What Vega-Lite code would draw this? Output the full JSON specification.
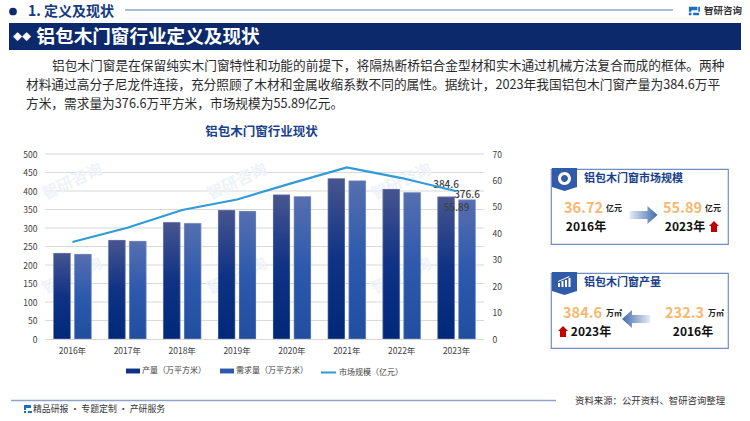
{
"$schema":"https://vega.github.io/schema/vega-lite/v6.json",
"padding":0,
"background":"#ffffff",
"config":{"concat":{"spacing":0},"view":{"stroke":null},"font":"Noto Sans CJK SC","text":{"font":"Noto Sans CJK SC"},"point":{"opacity":1},"axis":{"labelOverlap":false,"labelBound":false,"labelFlush":false}},
"datasets":{
"main":[
{"year":"2016年","series":"产量（万平方米）","value":232.3},
{"year":"2017年","series":"产量（万平方米）","value":267.6},
{"year":"2018年","series":"产量（万平方米）","value":315.3},
{"year":"2019年","series":"产量（万平方米）","value":348.6},
{"year":"2020年","series":"产量（万平方米）","value":390},
{"year":"2021年","series":"产量（万平方米）","value":434},
{"year":"2022年","series":"产量（万平方米）","value":405.4},
{"year":"2023年","series":"产量（万平方米）","value":384.6},
{"year":"2016年","series":"需求量（万平方米）","value":229.7},
{"year":"2017年","series":"需求量（万平方米）","value":264.9},
{"year":"2018年","series":"需求量（万平方米）","value":312.6},
{"year":"2019年","series":"需求量（万平方米）","value":346},
{"year":"2020年","series":"需求量（万平方米）","value":385},
{"year":"2021年","series":"需求量（万平方米）","value":428},
{"year":"2022年","series":"需求量（万平方米）","value":396},
{"year":"2023年","series":"需求量（万平方米）","value":376.6},
{"year":"2016年","series":"市场规模（亿元）","value":36.72},
{"year":"2017年","series":"市场规模（亿元）","value":42.1},
{"year":"2018年","series":"市场规模（亿元）","value":48.8},
{"year":"2019年","series":"市场规模（亿元）","value":52.8},
{"year":"2020年","series":"市场规模（亿元）","value":59},
{"year":"2021年","series":"市场规模（亿元）","value":64.9},
{"year":"2022年","series":"市场规模（亿元）","value":60.9},
{"year":"2023年","series":"市场规模（亿元）","value":55.89}
],
"levels":[{"level":50},{"level":100},{"level":150},{"level":200},{"level":250},{"level":300},{"level":350},{"level":400},{"level":450},{"level":500}],
"para":[
{"line":"1","start":"indent","text":"铝包木门窗是在保留纯实木门窗特性和功能的前提下，将隔热断桥铝合金型材和实木通过机械方法复合而成的框体。两种"},
{"line":"2","start":"left","text":"材料通过高分子尼龙件连接，充分照顾了木材和金属收缩系数不同的属性。据统计，2023年我国铝包木门窗产量为384.6万平"},
{"line":"3","start":"left","text":"方米，需求量为376.6万平方米，市场规模为55.89亿元。"}
],
"wm":[{"year":"2016年","t":"智研咨询"},{"year":"2019年","t":"智研咨询"},{"year":"2022年","t":"智研咨询"}],
"card1":[{"year":"2016年","num":"36.72","unit":"亿元"},{"year":"2023年","num":"55.89","unit":"亿元"}],
"card2":[{"year":"2023年","num":"384.6","unit":"万㎡"},{"year":"2016年","num":"232.3","unit":"万㎡"}]
},
"vconcat":[
{"hconcat":[
{"data":{"values":[{}]},"mark":{"type":"text","text":""},"width":8,"height":23},
{"data":{"values":[{}]},"mark":{"type":"point","filled":true,"size":60,"color":"#0c2a6b"},"width":10,"height":23},
{"data":{"values":[{"t":"1. 定义及现状"}]},"mark":{"type":"text","fontSize":14,"fontWeight":"bold","color":"#14397f"},"encoding":{"text":{"field":"t"}},"width":106,"height":23},
{"data":{"values":[{}]},"mark":{"type":"rule","stroke":"#8fa3cc","strokeWidth":1.5},"encoding":{"y":{"datum":0,"type":"quantitative","scale":{"domain":[-1,1]},"axis":null}},"width":548,"height":20},
{"data":{"values":[{}]},"mark":{"type":"text","text":""},"width":14,"height":23},
{"data":{"values":[{}]},"mark":{"type":"point","filled":true,"size":2.9,"stroke":null,"shape":"M-6,-5H4V-1H-3V1H-6ZM-6,2H-3V5H-6ZM1,2H6V5H-1V2ZM5,-5H7V1H5Z","color":"#1f6fc0"},"width":12,"height":22},
{"data":{"values":[{"t":"智研咨询"}]},"mark":{"type":"text","fontSize":9.5,"fontWeight":"bold","color":"#333333"},"encoding":{"text":{"field":"t"}},"width":46,"height":21}
]},
{"hconcat":[
{"data":{"values":[{}]},"mark":{"type":"text","text":""},"width":9,"height":27},
{"data":{"values":[{"t":"◆◆"}]},"view":{"fill":"#0c2a6b"},"mark":{"type":"text","fontSize":9,"color":"#ffffff"},"encoding":{"text":{"field":"t"}},"width":26,"height":27},
{"data":{"values":[{"t":"铝包木门窗行业定义及现状"}]},"view":{"fill":"#0c2a6b"},"mark":{"type":"text","fontSize":18.6,"fontWeight":"bold","color":"#ffffff"},"encoding":{"text":{"field":"t"}},"width":226,"height":27},
{"data":{"values":[{}]},"view":{"fill":"#0c2a6b"},"mark":{"type":"text","text":""},"width":480,"height":27}
]},
{"hconcat":[
{"data":{"values":[{}]},"mark":{"type":"text","text":""},"width":26,"height":64},
{"data":{"name":"para"},"mark":{"type":"text","align":"left","fontSize":12.7,"color":"#2b2b2b"},
"encoding":{"x":{"field":"start","type":"nominal","scale":{"type":"point","domain":["left","indent"],"range":[0,26],"padding":0},"axis":null},
"y":{"field":"line","type":"nominal","scale":{"type":"point","domain":["1","2","3"],"range":[16,54],"padding":0},"axis":null},
"text":{"field":"text"}},"width":700,"height":64}
]},
{"data":{"values":[{}]},"mark":{"type":"text","text":""},"width":10,"height":10},
{"hconcat":[
{"data":{"values":[{}]},"mark":{"type":"text","text":""},"width":22,"height":10},
{"width":439,"height":185,
"title":{"text":"铝包木门窗行业现状","anchor":"middle","fontSize":12.5,"fontWeight":"bold","color":"#1a3f8c","offset":12,"dx":-3,"font":"Noto Sans CJK SC"},
"layer":[
{"layer":[
{"data":{"name":"levels"},"mark":{"type":"rule","stroke":"#d8d8d8","strokeWidth":1.2},"encoding":{"y":{"field":"level","type":"quantitative","title":null}}},
{"data":{"name":"wm"},"mark":{"type":"text","fontSize":16,"fontWeight":"bold","angle":335,"color":"#eef3f9"},
"encoding":{"x":{"field":"year","type":"ordinal","title":null,"axis":{"bandPosition":0.5,"labelAngle":0,"labelFont":"Noto Sans CJK SC","labelFontSize":8.5,"labelColor":"#404040","labelPadding":7,"ticks":false,"domainColor":"#d8d8d8","grid":false}},"y":{"datum":425,"type":"quantitative"},"text":{"field":"t"}}},
{"data":{"name":"wm"},"mark":{"type":"text","fontSize":16,"fontWeight":"bold","angle":335,"color":"#eef3f9"},
"encoding":{"x":{"field":"year","type":"ordinal","title":null},"y":{"datum":170,"type":"quantitative"},"text":{"field":"t"}}},
{"data":{"name":"main"},"transform":[{"filter":"datum.series!=='市场规模（亿元）'"}],
"mark":{"type":"bar"},
"encoding":{
"x":{"field":"year","type":"ordinal","title":null,"scale":{"paddingInner":0.31,"paddingOuter":0.155},"axis":{"bandPosition":0.5,"labelAngle":0,"labelFont":"Noto Sans CJK SC","labelFontSize":8.5,"labelColor":"#404040","labelPadding":7,"ticks":false,"domainColor":"#d8d8d8","grid":false}},
"xOffset":{"field":"series","scale":{"domain":["产量（万平方米）","需求量（万平方米）"],"paddingInner":0.19}},
"y":{"field":"value","type":"quantitative","title":null,"scale":{"domain":[0,500],"nice":false},"axis":{"values":[0,50,100,150,200,250,300,350,400,450,500],"tickCount":11,"labelOverlap":false,"grid":false,"labelFont":"Noto Sans CJK SC","labelFontSize":8.5,"labelColor":"#404040","labelPadding":8,"ticks":false,"domain":false}},
"fill":{"field":"series","type":"nominal","scale":{"domain":["产量（万平方米）","需求量（万平方米）"],"range":["#0f3285","#2d59ad"]},"legend":{"orient":"none","legendX":126,"legendY":364,"direction":"horizontal","title":null,"symbolType":"M-1,-0.35H1V0.35H-1Z","symbolSize":196,"labelFont":"Noto Sans CJK SC","labelFontSize":8,"labelColor":"#404040","labelOffset":2,"columnPadding":14,"symbolStrokeWidth":0}}
}},
{"data":{"name":"main"},"transform":[{"filter":"datum.series==='产量（万平方米）'"}],
"mark":{"type":"bar","stroke":"#c5cde0","strokeWidth":0.4,"fill":{"gradient":"linear","x1":0,"y1":0,"x2":0,"y2":1,"stops":[{"offset":0,"color":"#47558f"},{"offset":0.5,"color":"#0f3285"},{"offset":1,"color":"#002878"}]}},
"encoding":{"x":{"field":"year","type":"ordinal"},"xOffset":{"field":"series","scale":{"domain":["产量（万平方米）","需求量（万平方米）"],"paddingInner":0.19}},"y":{"field":"value","type":"quantitative"}}},
{"data":{"name":"main"},"transform":[{"filter":"datum.series==='需求量（万平方米）'"}],
"mark":{"type":"bar","stroke":"#c5cde0","strokeWidth":0.4,"fill":{"gradient":"linear","x1":0,"y1":0,"x2":0,"y2":1,"stops":[{"offset":0,"color":"#566fb0"},{"offset":0.5,"color":"#2d59ad"},{"offset":1,"color":"#214e9f"}]}},
"encoding":{"x":{"field":"year","type":"ordinal"},"xOffset":{"field":"series","scale":{"domain":["产量（万平方米）","需求量（万平方米）"],"paddingInner":0.19}},"y":{"field":"value","type":"quantitative"}}},
{"data":{"name":"main"},"transform":[{"filter":"datum.year==='2023年' && datum.series==='产量（万平方米）'"}],
"mark":{"type":"text","dy":-12,"fontSize":10,"fontWeight":500,"color":"#404040"},
"encoding":{"x":{"field":"year","type":"ordinal"},"xOffset":{"field":"series","scale":{"domain":["产量（万平方米）","需求量（万平方米）"],"paddingInner":0.19}},"y":{"field":"value","type":"quantitative"},"text":{"field":"value","type":"quantitative","format":".1f"}}},
{"data":{"name":"main"},"transform":[{"filter":"datum.year==='2023年' && datum.series==='需求量（万平方米）'"}],
"mark":{"type":"text","dy":-5,"fontSize":10,"fontWeight":500,"color":"#404040"},
"encoding":{"x":{"field":"year","type":"ordinal"},"xOffset":{"field":"series","scale":{"domain":["产量（万平方米）","需求量（万平方米）"],"paddingInner":0.19}},"y":{"field":"value","type":"quantitative"},"text":{"field":"value","type":"quantitative","format":".1f"}}}
]},
{"layer":[
{"data":{"name":"main"},"transform":[{"filter":"datum.series==='市场规模（亿元）'"}],
"mark":{"type":"line","strokeWidth":2.2},
"encoding":{
"x":{"field":"year","type":"ordinal"},
"y":{"field":"value","type":"quantitative","title":null,"scale":{"domain":[0,70],"nice":false},"axis":{"orient":"right","values":[0,10,20,30,40,50,60,70],"tickCount":8,"labelOverlap":false,"grid":false,"labelFont":"Noto Sans CJK SC","labelFontSize":8.5,"labelColor":"#404040","labelPadding":8,"ticks":false,"domain":false}},
"stroke":{"field":"series","type":"nominal","scale":{"domain":["市场规模（亿元）"],"range":["#2f9bd7"]},"legend":{"orient":"none","legendX":320,"legendY":364,"direction":"horizontal","title":null,"symbolType":"M-1,0H1","symbolSize":225,"symbolStrokeWidth":2,"labelFont":"Noto Sans CJK SC","labelFontSize":8,"labelColor":"#404040","labelOffset":2}}
}},
{"data":{"name":"main"},"transform":[{"filter":"datum.year==='2023年' && datum.series==='市场规模（亿元）'"}],
"mark":{"type":"text","dy":17,"fontSize":10,"fontWeight":500,"color":"#404040"},
"encoding":{"x":{"field":"year","type":"ordinal"},"y":{"field":"value","type":"quantitative"},"text":{"field":"value","type":"quantitative","format":".2f"}}}
]}
],
"resolve":{"scale":{"y":"independent"}}
},
{"data":{"values":[{}]},"mark":{"type":"text","text":""},"width":48,"height":10},
{"vconcat":[
{"data":{"values":[{}]},"mark":{"type":"text","text":""},"width":10,"height":13},
{"width":177,"height":75,"view":{"stroke":"#6f8fc4","strokeWidth":1.2},
"data":{"name":"card1"},
"layer":[
{"data":{"values":[{}]},"mark":{"type":"point","filled":true,"size":4,"color":"#2f5ba8","stroke":null,"shape":"M-42,-11H-17V8L-29.5,12L-42,8Z"},
"encoding":{"x":{"datum":"2016年","type":"nominal","scale":{"type":"point","domain":["2016年","arrow","2023年"],"range":[43,142],"padding":0},"axis":null},"y":{"datum":"header","type":"nominal","scale":{"type":"point","domain":["header","gap","value","year"],"range":[10,58],"padding":0},"axis":null}}},
{"data":{"values":[{}]},"mark":{"type":"point","filled":true,"size":4,"color":"#ffffff","stroke":null,"shape":"M-29.5,-7A6.5,6.5,0,1,1,-29.5,6A6.5,6.5,0,1,1,-29.5,-7ZM-29.5,-4A3.5,3.5,0,1,0,-29.5,3A3.5,3.5,0,1,0,-29.5,-4Z"},
"encoding":{"x":{"datum":"2016年","type":"nominal","scale":{"type":"point","domain":["2016年","arrow","2023年"],"range":[43,142],"padding":0},"axis":null},"y":{"datum":"header","type":"nominal","scale":{"type":"point","domain":["header","gap","value","year"],"range":[10,58],"padding":0},"axis":null}}},
{"data":{"values":[{"t":"铝包木门窗市场规模"}]},"mark":{"type":"text","align":"left","dx":-10,"fontSize":11,"fontWeight":"bold","color":"#1a3f8c"},
"encoding":{"text":{"field":"t"},"x":{"datum":"2016年","type":"nominal","scale":{"type":"point","domain":["2016年","arrow","2023年"],"range":[43,142],"padding":0},"axis":null},"y":{"datum":"header","type":"nominal","scale":{"type":"point","domain":["header","gap","value","year"],"range":[10,58],"padding":0},"axis":null}}},
{"mark":{"type":"text","align":"right","dx":9,"dy":-2,"fontSize":14.5,"fontWeight":"bold","color":"#f7b871"},
"encoding":{"text":{"field":"num"},"x":{"field":"year","type":"nominal","scale":{"type":"point","domain":["2016年","arrow","2023年"],"range":[43,142],"padding":0},"axis":null},"y":{"datum":"value","type":"nominal","scale":{"type":"point","domain":["header","gap","value","year"],"range":[10,58],"padding":0},"axis":null}}},
{"mark":{"type":"text","align":"left","dx":12,"dy":-2,"fontSize":8,"fontWeight":"bold","color":"#222222"},
"encoding":{"text":{"field":"unit"},"x":{"field":"year","type":"nominal","scale":{"type":"point","domain":["2016年","arrow","2023年"],"range":[43,142],"padding":0},"axis":null},"y":{"datum":"value","type":"nominal","scale":{"type":"point","domain":["header","gap","value","year"],"range":[10,58],"padding":0},"axis":null}}},
{"mark":{"type":"text","dx":-8,"fontSize":12,"fontWeight":"bold","color":"#111111"},
"encoding":{"text":{"field":"year"},"x":{"field":"year","type":"nominal","scale":{"type":"point","domain":["2016年","arrow","2023年"],"range":[43,142],"padding":0},"axis":null},"y":{"datum":"year","type":"nominal","scale":{"type":"point","domain":["header","gap","value","year"],"range":[10,58],"padding":0},"axis":null}}},
{"data":{"values":[{}]},"mark":{"type":"point","filled":true,"size":4,"stroke":null,"shape":"M-14,0H4V-5L14,4L4,13V8H-14Z","fill":{"gradient":"linear","x1":0,"y1":0,"x2":1,"y2":0,"stops":[{"offset":0,"color":"#e6ecf6"},{"offset":1,"color":"#3f69ae"}]}},
"encoding":{"x":{"datum":"arrow","type":"nominal","scale":{"type":"point","domain":["2016年","arrow","2023年"],"range":[43,142],"padding":0},"axis":null},"y":{"datum":"value","type":"nominal","scale":{"type":"point","domain":["header","gap","value","year"],"range":[10,58],"padding":0},"axis":null}}},
{"data":{"values":[{}]},"mark":{"type":"point","filled":true,"size":4,"stroke":null,"color":"#c00000","shape":"M16,-1L21,-6L26,-1H24V5H18V-1Z"},
"encoding":{"x":{"datum":"2023年","type":"nominal","scale":{"type":"point","domain":["2016年","arrow","2023年"],"range":[43,142],"padding":0},"axis":null},"y":{"datum":"year","type":"nominal","scale":{"type":"point","domain":["header","gap","value","year"],"range":[10,58],"padding":0},"axis":null}}}
]},
{"data":{"values":[{}]},"mark":{"type":"text","text":""},"width":10,"height":26},
{"width":177,"height":75,"view":{"stroke":"#6f8fc4","strokeWidth":1.2},
"data":{"name":"card2"},
"layer":[
{"data":{"values":[{}]},"mark":{"type":"point","filled":true,"size":4,"color":"#2f5ba8","stroke":null,"shape":"M-33,-11H-8V8L-20.5,12L-33,8Z"},
"encoding":{"x":{"datum":"2023年","type":"nominal","scale":{"type":"point","domain":["2023年","arrow","2016年"],"range":[34,136],"padding":0},"axis":null},"y":{"datum":"header","type":"nominal","scale":{"type":"point","domain":["header","gap","value","year"],"range":[10,58],"padding":0},"axis":null}}},
{"data":{"values":[{}]},"mark":{"type":"point","filled":true,"size":4,"color":"#ffffff","stroke":null,"shape":"M-27,4V0H-25V4ZM-23.5,4V-2H-21.5V4ZM-20,4V-3H-18V4ZM-16.5,4V-5H-14.5V4ZM-27,-2L-20,-5L-16,-7L-15.5,-6L-20,-4L-27,-1Z"},
"encoding":{"x":{"datum":"2023年","type":"nominal","scale":{"type":"point","domain":["2023年","arrow","2016年"],"range":[34,136],"padding":0},"axis":null},"y":{"datum":"header","type":"nominal","scale":{"type":"point","domain":["header","gap","value","year"],"range":[10,58],"padding":0},"axis":null}}},
{"data":{"values":[{"t":"铝包木门窗产量"}]},"mark":{"type":"text","align":"left","dx":-1,"fontSize":11,"fontWeight":"bold","color":"#1a3f8c"},
"encoding":{"text":{"field":"t"},"x":{"datum":"2023年","type":"nominal","scale":{"type":"point","domain":["2023年","arrow","2016年"],"range":[34,136],"padding":0},"axis":null},"y":{"datum":"header","type":"nominal","scale":{"type":"point","domain":["header","gap","value","year"],"range":[10,58],"padding":0},"axis":null}}},
{"mark":{"type":"text","align":"right","dx":17,"dy":-1,"fontSize":14.5,"fontWeight":"bold","color":"#f7b871"},
"encoding":{"text":{"field":"num"},"x":{"field":"year","type":"nominal","scale":{"type":"point","domain":["2023年","arrow","2016年"],"range":[34,136],"padding":0},"axis":null},"y":{"datum":"value","type":"nominal","scale":{"type":"point","domain":["header","gap","value","year"],"range":[10,58],"padding":0},"axis":null}}},
{"mark":{"type":"text","align":"left","dx":21,"dy":-1,"fontSize":8,"fontWeight":"bold","color":"#222222"},
"encoding":{"text":{"field":"unit"},"x":{"field":"year","type":"nominal","scale":{"type":"point","domain":["2023年","arrow","2016年"],"range":[34,136],"padding":0},"axis":null},"y":{"datum":"value","type":"nominal","scale":{"type":"point","domain":["header","gap","value","year"],"range":[10,58],"padding":0},"axis":null}}},
{"mark":{"type":"text","dx":6,"dy":1,"fontSize":12,"fontWeight":"bold","color":"#111111"},
"encoding":{"text":{"field":"year"},"x":{"field":"year","type":"nominal","scale":{"type":"point","domain":["2023年","arrow","2016年"],"range":[34,136],"padding":0},"axis":null},"y":{"datum":"year","type":"nominal","scale":{"type":"point","domain":["header","gap","value","year"],"range":[10,58],"padding":0},"axis":null}}},
{"data":{"values":[{}]},"mark":{"type":"point","filled":true,"size":4,"stroke":null,"shape":"M14,0H-4V-5L-14,4L-4,13V8H14Z","fill":{"gradient":"linear","x1":1,"y1":0,"x2":0,"y2":0,"stops":[{"offset":0,"color":"#e6ecf6"},{"offset":1,"color":"#3f69ae"}]}},
"encoding":{"x":{"datum":"arrow","type":"nominal","scale":{"type":"point","domain":["2023年","arrow","2016年"],"range":[34,136],"padding":0},"axis":null},"y":{"datum":"value","type":"nominal","scale":{"type":"point","domain":["header","gap","value","year"],"range":[10,58],"padding":0},"axis":null}}},
{"data":{"values":[{}]},"mark":{"type":"point","filled":true,"size":4,"stroke":null,"color":"#c00000","shape":"M-27,0L-22,-5L-17,0H-19V6H-25V0Z"},
"encoding":{"x":{"datum":"2023年","type":"nominal","scale":{"type":"point","domain":["2023年","arrow","2016年"],"range":[34,136],"padding":0},"axis":null},"y":{"datum":"year","type":"nominal","scale":{"type":"point","domain":["header","gap","value","year"],"range":[10,58],"padding":0},"axis":null}}}
]}
]}
]},
{"data":{"values":[{}]},"mark":{"type":"text","text":""},"width":10,"height":41},
{"hconcat":[
{"data":{"values":[{}]},"mark":{"type":"text","text":""},"width":10,"height":16},
{"vconcat":[
{"data":{"values":[{}]},"mark":{"type":"rule","stroke":"#8fa3cc","strokeWidth":1.5},"encoding":{"y":{"datum":0,"type":"quantitative","scale":{"domain":[-1,1]},"axis":null}},"width":545,"height":3},
{"hconcat":[
{"data":{"values":[{}]},"mark":{"type":"text","text":""},"width":12,"height":14},
{"data":{"values":[{}]},"mark":{"type":"point","filled":true,"size":4,"stroke":null,"shape":"M-4,-4H3V-1H-2V1H-4ZM-4,2H-2V4H-4ZM0,2H4V4H0Z","color":"#1f6fc0"},"width":10,"height":14},
{"data":{"values":[{"t":"精品研报 · 专题定制 · 产研服务"}]},"mark":{"type":"text","align":"left","fontSize":8.9,"color":"#333333"},"encoding":{"text":{"field":"t"},"x":{"datum":"left","type":"nominal","scale":{"type":"point","domain":["left","right"],"padding":0},"axis":null}},"width":200,"height":14}
]}
]},
{"data":{"values":[{}]},"mark":{"type":"text","text":""},"width":15,"height":16},
{"data":{"values":[{"t":"资料来源：公开资料、智研咨询整理"}]},"mark":{"type":"text","fontSize":9.4,"color":"#333333"},"encoding":{"text":{"field":"t"}},"width":156,"height":4}
]}
]
}
